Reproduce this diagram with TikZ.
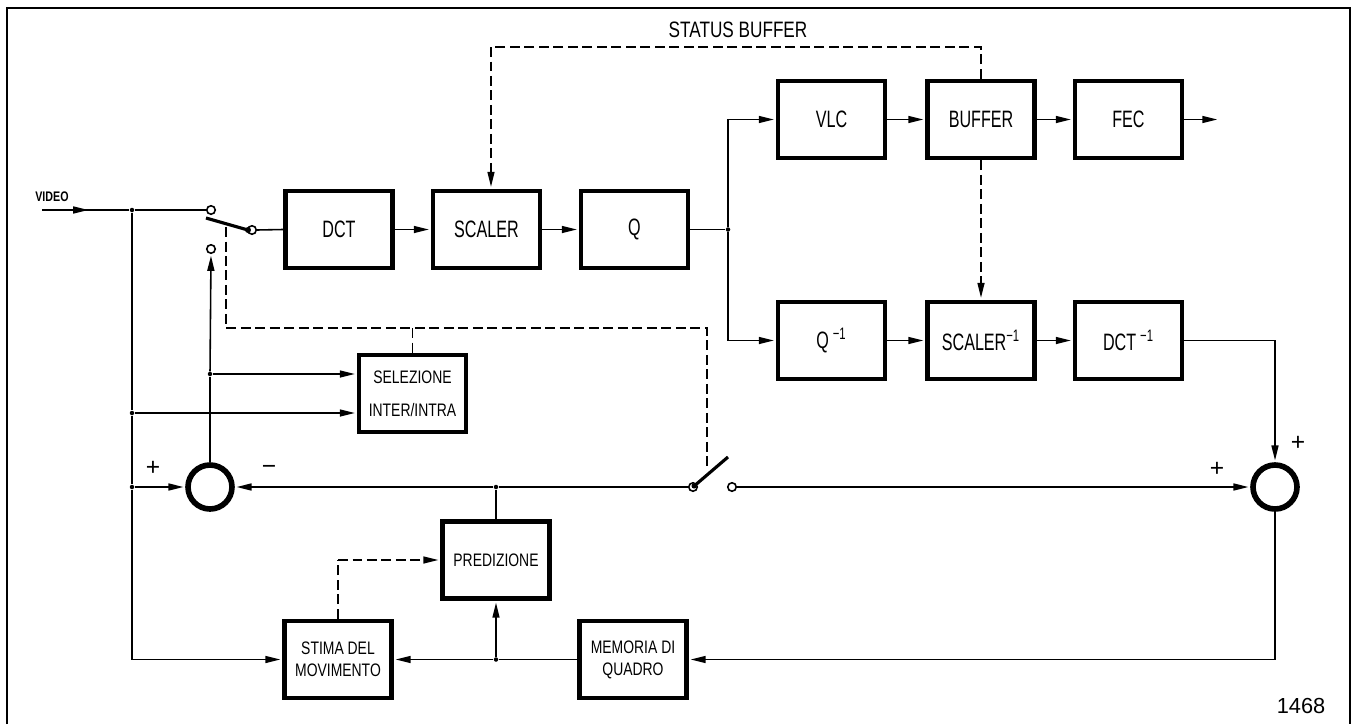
\documentclass[tikz,border=0pt]{standalone}
\usepackage{fontspec}
\setmainfont{Liberation Sans}
\newfontfamily\fa{Liberation Sans}[FakeStretch=0.68]
\newfontfamily\fb{Liberation Sans}[FakeStretch=0.77]
\usetikzlibrary{arrows.meta,calc}
\begin{document}
\begin{tikzpicture}[x=0.02cm,y=-0.02cm,
  blk/.style={draw,line width=2.8pt,minimum width=2.14cm,minimum height=1.54cm,inner sep=0pt,
    font=\fa\fontsize{13.5}{16}\selectfont},
  blks/.style={blk,font=\fb\fontsize{10.3}{12.5}\selectfont,align=center},
  sum/.style={draw,circle,line width=3.2pt,minimum size=0.88cm,inner sep=0pt},
  ln/.style={line width=0.9pt},
  arr/.style={ln,-{Triangle[length=3mm,width=1.4mm]},shorten >=1pt},
  dsh/.style={line width=0.9pt,dash pattern=on 0.2cm off 0.09cm},
  dot/.style={circle,fill,inner sep=0pt,minimum size=0.09cm},
  cont/.style={circle,draw,line width=0.9pt,fill=white,inner sep=0pt,minimum size=0.17cm},
  lever/.style={line width=1.8pt},
  sgn/.style={font=\fontsize{14}{14}\selectfont,inner sep=0pt}
]
\useasboundingbox (0,0) rectangle (1353,724);
% frame
\draw[line width=1pt] (7,724) -- (7,8) -- (1350,8) -- (1350,724);

% blocks
\node[blk] (dct)    at (339,229.5)   {DCT};
\node[blk] (scaler) at (486.5,229.5) {SCALER};
\node[blk] (q)      at (634.5,229.5) {Q};
\node[blk] (vlc)    at (831.5,119.5) {VLC};
\node[blk] (buffer) at (981,119.5)   {BUFFER};
\node[blk] (fec)    at (1128.5,119.5){FEC};
\node[blk] (qi)     at (831.5,340.5) {Q\,\textsuperscript{−1}};
\node[blk] (sci)    at (981,340.5)   {SCALER\textsuperscript{−1}};
\node[blk] (dcti)   at (1128.5,340.5){DCT\,\textsuperscript{−1}};
\node[blks,font=\fb\fontsize{10.3}{18.7}\selectfont] (sel) at (412.5,393.5) {SELEZIONE\\INTER/INTRA};
\node[blks] (pred)  at (496,560)     {PREDIZIONE};
\node[blks] (stima) at (338,659.5)   {STIMA DEL\\MOVIMENTO};
\node[blks] (mem)   at (633,659.5)   {MEMORIA DI\\QUADRO};
\node[sum] (s1) at (210,487) {};
\node[sum] (s2) at (1275,487) {};

% texts
\node[font=\fb\bfseries\fontsize{7.9}{8}\selectfont] (vidtxt) at (52,197) {VIDEO};
\node[font=\fb\fontsize{12.7}{14}\selectfont] (sbtxt) at (738,30) {STATUS BUFFER};
\node[font=\fontsize{12.4}{14}\selectfont] (numtxt) at (1301,706) {1468};
\node[sgn] (p1) at (153,468) {+};
\node[sgn] (m1) at (269,470) {−};
\node[sgn] (p2s) at (1217,469) {+};
\node[sgn] (p3s) at (1298,443) {+};

% input switch
\coordinate (vin) at (42,210);
\coordinate (vmid) at (90,210);
\node[dot] (j1) at (132,210) {};
\node[cont] (c1) at (211,210) {};
\node[cont] (c2) at (211,249) {};
\node[cont] (c3) at (252,230) {};
\coordinate (l1) at (206,218);
\coordinate (l1e) at (248,230);
\draw[ln] (vin) -- (j1) -- (c1.west);
\draw[arr] (vin) -- (vmid);
\draw[lever] (l1) -- (l1e);
\node[dot,minimum size=0.12cm] (l1d) at (l1e) {};
\draw[ln] (c3.east) -- (dct.west);

% left side
\node[dot] (j2) at (132,413) {};
\node[dot] (j3) at (132,487) {};
\coordinate (b1) at (132,659.5);
\draw[ln] (j1) -- (j2) -- (j3) -- (b1);
\draw[arr] (b1) -- (stima.west);
\draw[arr] (j2) -- (j2 -| sel.west);
\draw[arr] (j3) -- (s1.west);
\node[dot] (j4) at (210,374) {};
\draw[ln] (s1.north) -- (j4);
\draw[arr] (j4) -- (c2.south);
\draw[arr] (j4) -- (j4 -| sel.west);

% forward path
\draw[arr] (dct) -- (scaler);
\draw[arr] (scaler) -- (q);
\node[dot] (j5) at (728,229.5) {};
\draw[ln] (q.east) -- (j5);
\draw[arr] (j5) |- (vlc.west);
\draw[arr] (j5) |- (qi.west);
\draw[arr] (vlc) -- (buffer);
\draw[arr] (buffer) -- (fec);
\coordinate (out) at (1219,119.5);
\draw[arr] (fec.east) -- (out);
\draw[arr] (qi) -- (sci);
\draw[arr] (sci) -- (dcti);
\draw[arr] (dcti.east) -| (s2.north);

% loop switch
\node[cont] (sw2p) at (693,487) {};
\node[cont] (sw2q) at (732,487) {};
\node[dot,minimum size=0.1cm] (sw2d) at (694,486) {};
\coordinate (l2) at (728,457);
\draw[lever] (sw2p.center) -- (l2);
\draw[arr] (sw2q.east) -- (s2.west);
\node[dot] (j7) at (496,487) {};
\draw[ln] (sw2p.west) -- (j7);
\draw[arr] (j7) -- (s1.east);
\draw[ln] (pred.north) -- (j7);

% bottom loop
\coordinate (b2) at (1275,659.5);
\draw[ln] (s2.south) -- (b2);
\draw[arr] (b2) -- (mem.east);
\node[dot] (j6) at (496,659.5) {};
\draw[ln] (mem.west) -- (j6);
\draw[arr] (j6) -- (stima.east);
\draw[arr] (j6) -- (pred.south);

% dashed control lines
\coordinate (d1) at (226,227);
\coordinate (d2) at (226,328);
\coordinate (d3) at (707,328);
\coordinate (d4) at (707,470);
\coordinate (d5) at (412.5,328);
\draw[dsh] (d1) -- (d2) -- (d3) -- (d4);
\draw[dsh] (d5) -- (sel.north);
\coordinate (sa) at (981,47);
\coordinate (sbc) at (491,47);
\draw[dsh] (buffer.north) -- (sa) -- (sbc);
\draw[dsh,-{Triangle[length=3mm,width=1.4mm]},shorten >=1pt] (sbc) -- (sbc |- scaler.north);
\draw[dsh,-{Triangle[length=3mm,width=1.4mm]},shorten >=1pt] (buffer.south) -- (sci.north);
\coordinate (e1) at (338,560);
\draw[dsh] (stima.north) -- (e1);
\draw[dsh,-{Triangle[length=3mm,width=1.4mm]},shorten >=1pt] (e1) -- (pred.west);
\end{tikzpicture}
\end{document}
